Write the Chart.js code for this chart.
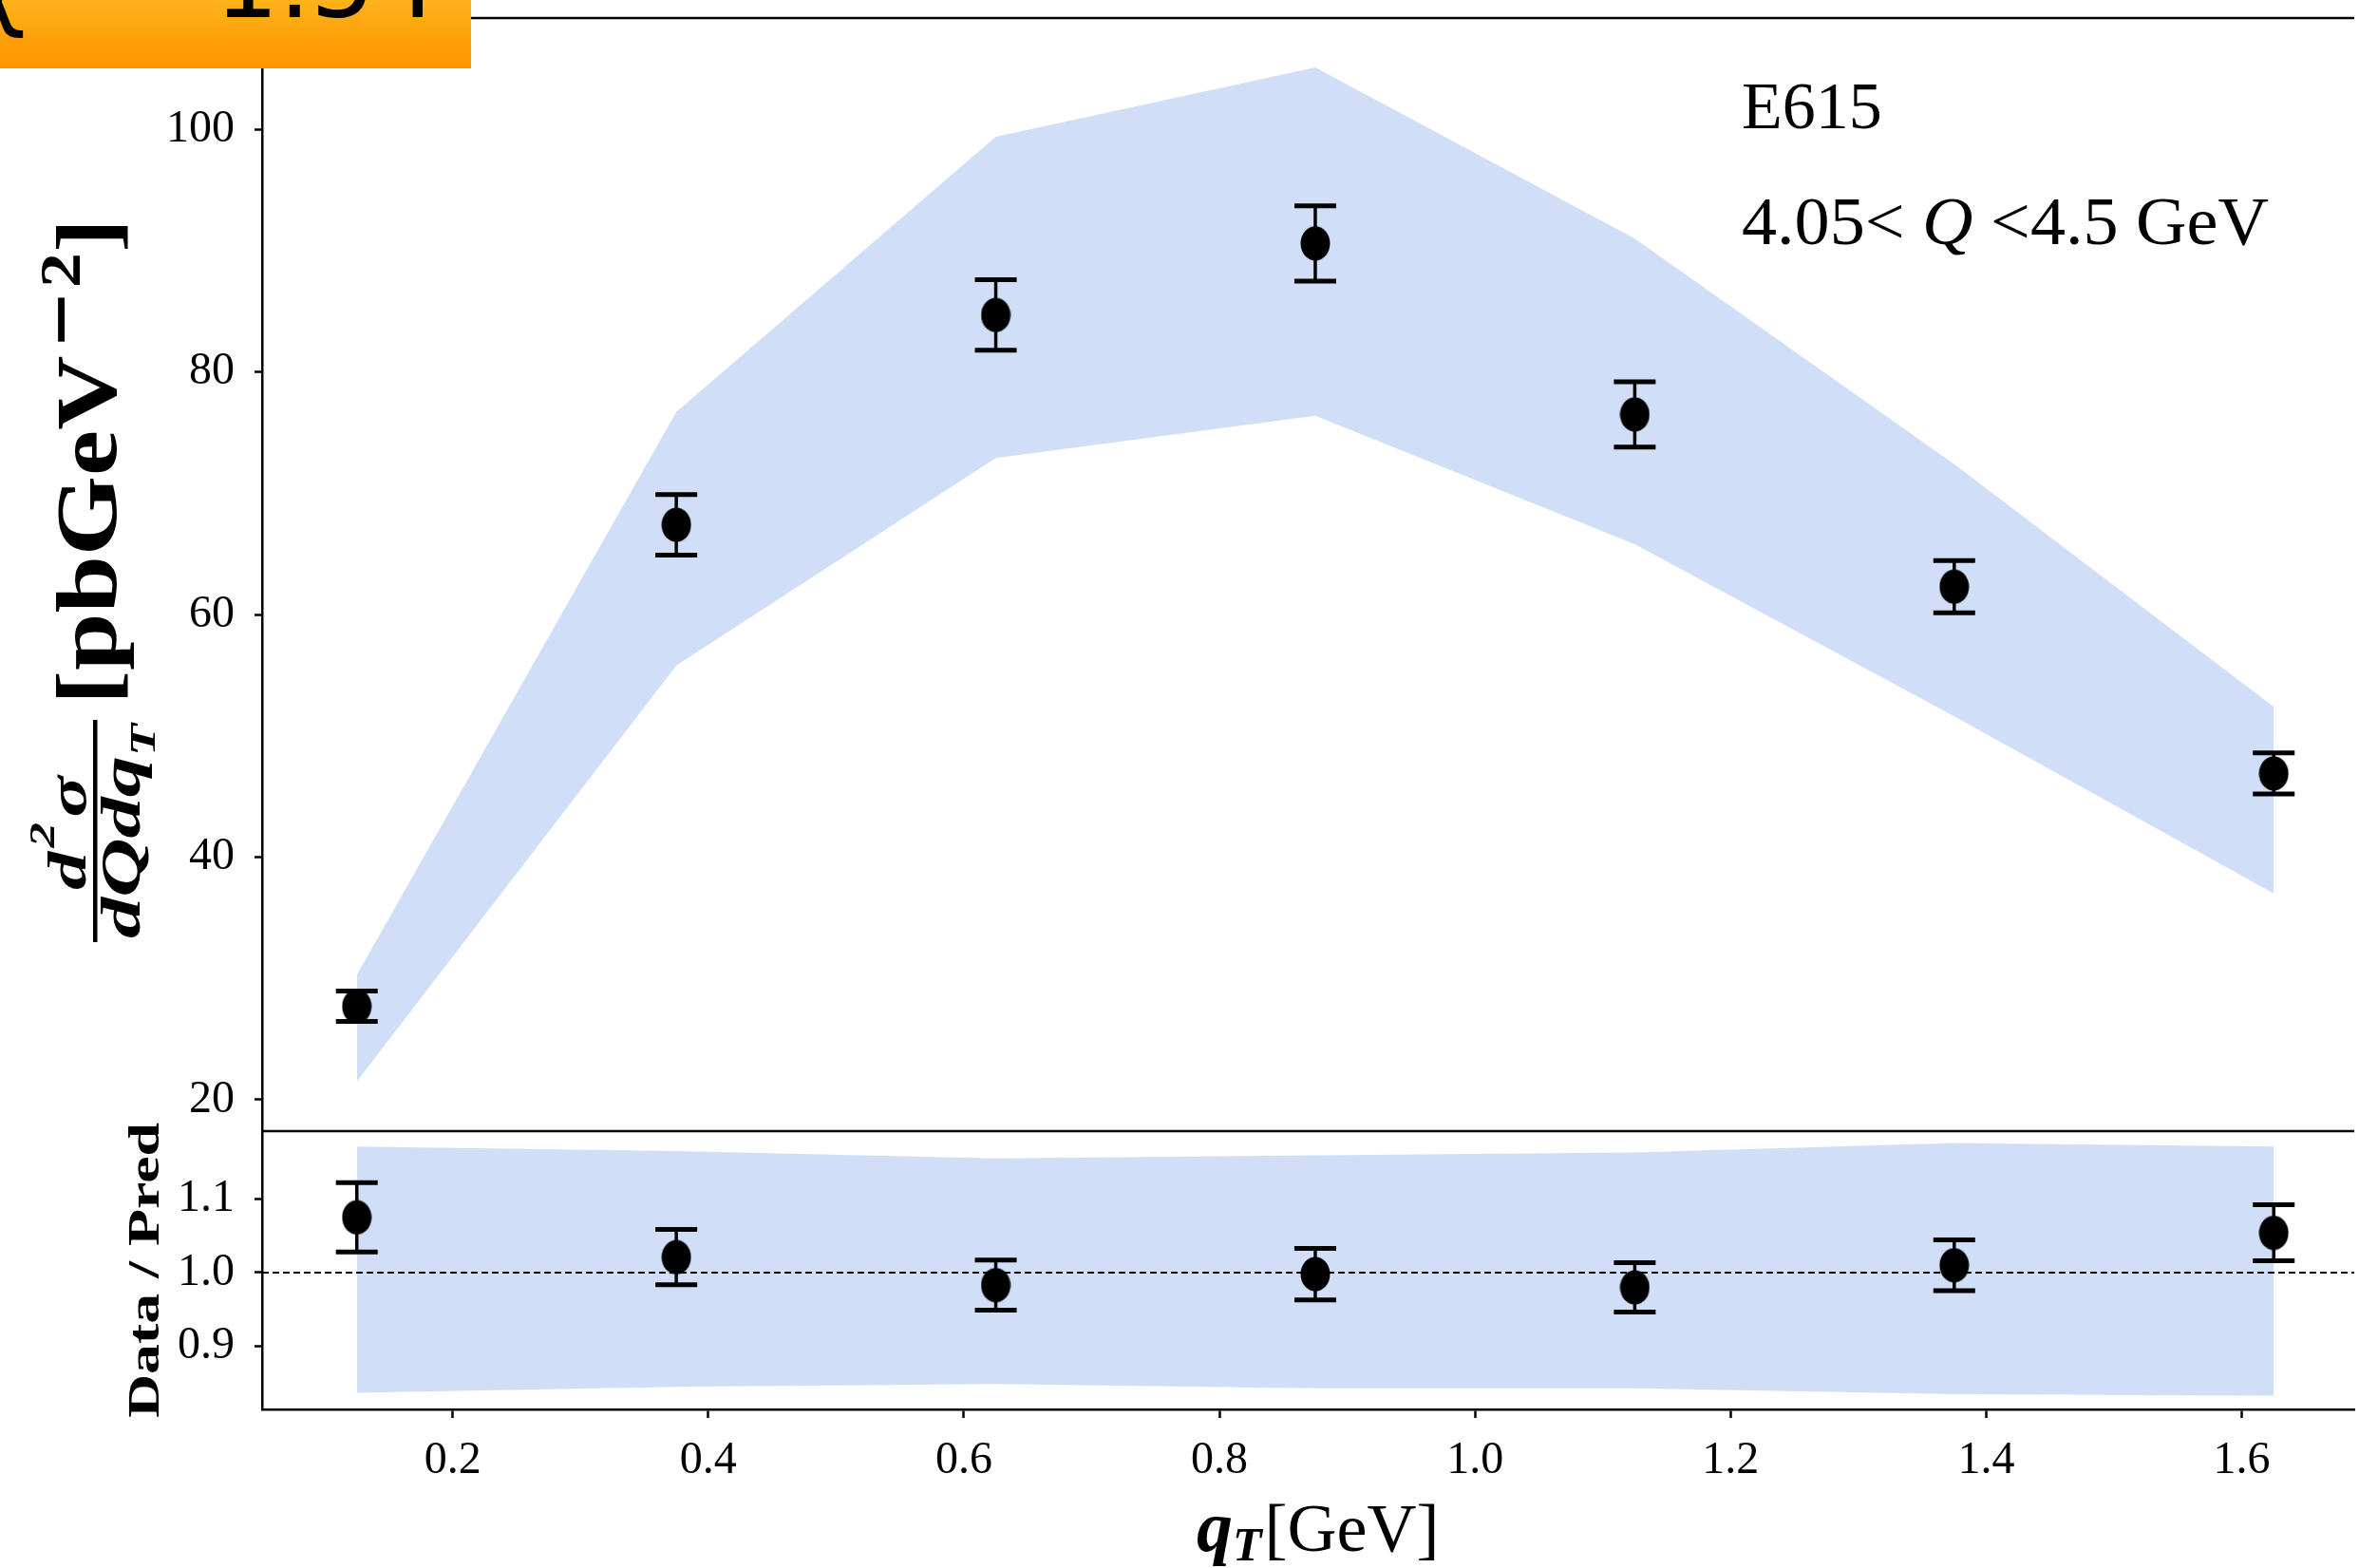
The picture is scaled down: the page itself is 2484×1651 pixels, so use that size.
<!DOCTYPE html>
<html>
<head>
<meta charset="utf-8">
<script src="https://cdn.jsdelivr.net/npm/chart.js@4.4.1/dist/chart.umd.min.js"></script>
<style>
html, body { margin: 0; padding: 0; background: #fff; }
#wrap { width: 2484px; height: 1651px; position: relative; }
</style>
</head>
<body>
<div id="wrap"><canvas id="myChart" width="2484" height="1651"></canvas></div>
<script>
// qT bin centres (GeV)
const qT = [0.125, 0.375, 0.625, 0.875, 1.125, 1.375, 1.625];

// E615 data, pb/GeV^2
const xsec = [27.7, 67.4, 84.7, 90.6, 76.5, 62.3, 46.9];
const xsecErr = [1.25, 2.5, 2.9, 3.1, 2.7, 2.15, 1.7];

// prediction band
const bandUp = [30.3, 76.7, 99.4, 105.1, 91.0, 72.4, 52.4];
const bandLow = [21.5, 55.8, 72.9, 76.4, 65.8, 51.6, 37.0];

// data / prediction
const ratio = [1.075, 1.021, 0.983, 0.998, 0.980, 1.010, 1.054];
const ratioErr = [0.047, 0.0375, 0.034, 0.035, 0.0335, 0.0345, 0.038];
const ratioBandUp = [1.171, 1.165, 1.155, 1.159, 1.163, 1.176, 1.171];
const ratioBandLow = [0.837, 0.845, 0.849, 0.843, 0.843, 0.835, 0.833];

// ticks
const xTicks = [0.2, 0.4, 0.6, 0.8, 1.0, 1.2, 1.4, 1.6];
const topTicks = [20, 40, 60, 80, 100];
const ratioTicks = [0.9, 1.0, 1.1];

const bandColor = 'rgb(208, 223, 247)';
const serif = '"Liberation Serif"';

Chart.defaults.font.family = serif;
Chart.defaults.color = '#000';

const pts = (ys) => qT.map((x, i) => ({ x: x, y: ys[i] }));

// slightly tall elliptic marker
const marker = document.createElement('canvas');
marker.width = 32;
marker.height = 37;
const mctx = marker.getContext('2d');
mctx.fillStyle = '#000';
mctx.beginPath();
mctx.ellipse(16, 18.5, 15.5, 18, 0, 0, Math.PI * 2);
mctx.fill();

function drawErrors(ctx, xs, ys, errs, sx, sy) {
    ctx.strokeStyle = '#000';
    for (let i = 0; i < xs.length; i++) {
        const px = sx.getPixelForValue(xs[i]);
        const top = sy.getPixelForValue(ys[i] + errs[i]);
        const bot = sy.getPixelForValue(ys[i] - errs[i]);
        ctx.lineWidth = 3.5;
        ctx.beginPath();
        ctx.moveTo(px, top);
        ctx.lineTo(px, bot);
        ctx.stroke();
        ctx.lineWidth = 5;
        ctx.beginPath();
        ctx.moveTo(px - 22, top);
        ctx.lineTo(px + 22, top);
        ctx.moveTo(px - 22, bot);
        ctx.lineTo(px + 22, bot);
        ctx.stroke();
    }
}

// write a run of text pieces bottom-to-top, stretched so it spans screen y from yStart up to yEnd
function rotatedRun(ctx, pieces, yStart, yEnd) {
    let total = 0;
    pieces.forEach(p => {
        ctx.font = p.font;
        p.w = ctx.measureText(p.text).width;
        total += p.w + (p.gap || 0);
    });
    ctx.save();
    ctx.rotate(-Math.PI / 2);
    ctx.translate(-yStart, 0);
    ctx.scale((yStart - yEnd) / total, 1);
    ctx.fillStyle = '#000';
    let x = 0;
    pieces.forEach(p => {
        ctx.font = p.font;
        ctx.fillText(p.text, x, p.base);
        x += p.w + (p.gap || 0);
    });
    ctx.restore();
}

function drawYTitle(ctx) {
    // fraction bar
    ctx.save();
    ctx.fillStyle = '#000';
    ctx.fillRect(98, 758, 4.5, 234);
    ctx.restore();

    const bi = (size) => 'bold italic ' + size + 'px ' + serif;
    rotatedRun(ctx, [
        { text: 'd', font: bi(58), base: 90, gap: 3 },
        { text: '2', font: bi(38), base: 57, gap: 4 },
        { text: 'σ', font: bi(58), base: 90 }
    ], 937, 817);

    rotatedRun(ctx, [
        { text: 'dQdq', font: bi(59), base: 147 },
        { text: 'T', font: bi(38), base: 163 }
    ], 988, 762);

    rotatedRun(ctx, [
        { text: '[pbGeV', font: 'bold 91px ' + serif, base: 122, gap: 6 },
        { text: '−', font: 'bold 62px "DejaVu Serif"', base: 84, gap: 2 },
        { text: '2', font: 'bold 62px ' + serif, base: 84 },
        { text: ']', font: 'bold 91px ' + serif, base: 122 }
    ], 742, 230);

    rotatedRun(ctx, [
        { text: 'Data / Pred', font: 'bold 46px ' + serif, base: 167 }
    ], 1493, 1182);
}

function drawXTitle(ctx) {
    ctx.save();
    ctx.fillStyle = '#000';
    const fq = 'bold italic 76px ' + serif;
    const fT = 'bold italic 50px ' + serif;
    const fG = '72px ' + serif;
    let x = 1260;
    ctx.font = fq; ctx.fillText('q', x, 1633); x += ctx.measureText('q').width;
    ctx.font = fT; ctx.fillText('T', x, 1643); x += ctx.measureText('T').width + 3;
    ctx.font = fG; ctx.fillText('[GeV]', x, 1633);
    ctx.restore();
}

function drawLabels(ctx) {
    ctx.save();
    ctx.fillStyle = '#000';
    ctx.font = '70px ' + serif;
    ctx.fillText('E615', 1834, 135);

    const f = '72px ' + serif;
    const fi = 'italic 72px ' + serif;
    const parts = [['4.05< ', f], ['Q', fi], [' <4.5 GeV', f]];
    let total = 0;
    parts.forEach(p => { ctx.font = p[1]; total += ctx.measureText(p[0]).width; });
    ctx.translate(1834, 257);
    ctx.scale(555 / total, 1);
    let x = 0;
    parts.forEach(p => {
        ctx.font = p[1];
        ctx.fillText(p[0], x, 0);
        x += ctx.measureText(p[0]).width;
    });
    ctx.restore();
}

function drawBadge(ctx) {
    ctx.save();
    const g = ctx.createLinearGradient(0, 0, 0, 72);
    g.addColorStop(0, '#ffb31b');
    g.addColorStop(1, '#ff9400');
    ctx.fillStyle = g;
    ctx.fillRect(0, 0, 496, 72);
    ctx.fillStyle = '#000';
    ctx.font = '106px "DejaVu Sans"';
    ctx.textAlign = 'right';
    ctx.fillText('χ² = 1.54', 462, 18);
    ctx.restore();
}

const decor = {
    id: 'decor',
    afterDatasetsDraw(chart) {
        const ctx = chart.ctx;
        const sx = chart.scales.x;
        const sy = chart.scales.y;
        const sr = chart.scales.ratio;
        const area = chart.chartArea;

        // reference line at 1
        ctx.save();
        ctx.strokeStyle = '#000';
        ctx.lineWidth = 2;
        ctx.setLineDash([7, 4]);
        const y1 = sr.getPixelForValue(1);
        ctx.beginPath();
        ctx.moveTo(area.left, y1);
        ctx.lineTo(area.right, y1);
        ctx.stroke();
        ctx.restore();

        ctx.save();
        drawErrors(ctx, qT, xsec, xsecErr, sx, sy);
        drawErrors(ctx, qT, ratio, ratioErr, sx, sr);
        ctx.restore();
    },
    afterDraw(chart) {
        const ctx = chart.ctx;
        const area = chart.chartArea;
        const sr = chart.scales.ratio;
        ctx.save();
        ctx.strokeStyle = '#000';
        ctx.lineWidth = 2.5;
        ctx.beginPath();
        ctx.moveTo(area.left, area.top);
        ctx.lineTo(area.right, area.top);
        ctx.moveTo(area.left, sr.top);
        ctx.lineTo(area.right, sr.top);
        ctx.stroke();
        ctx.restore();

        drawYTitle(ctx);
        drawXTitle(ctx);
        drawLabels(ctx);
        drawBadge(ctx);
    }
};

const tickFont = { family: serif, size: 48 };

function yScale(min, max, weight, tickList, fmt) {
    return {
        type: 'linear',
        position: 'left',
        stack: 'panels',
        stackWeight: weight,
        min: min,
        max: max,
        afterFit: s => { s.width = 276; s.paddingTop = 0; s.paddingBottom = 0; },
        afterBuildTicks: s => { s.ticks = tickList.map(v => ({ value: v })); },
        ticks: { color: '#000', font: tickFont, padding: 21, callback: fmt },
        grid: { drawOnChartArea: false, drawTicks: true, tickLength: 8, tickWidth: 2.5, tickColor: '#000' },
        border: { display: true, color: '#000', width: 2.5 }
    };
}

new Chart(document.getElementById('myChart'), {
    type: 'scatter',
    data: {
        datasets: [
            { data: pts(xsec), yAxisID: 'y', pointStyle: marker, order: 0 },
            { data: pts(ratio), yAxisID: 'ratio', pointStyle: marker, order: 0 },
            {
                data: pts(bandUp), yAxisID: 'y', showLine: true, fill: '+1',
                backgroundColor: bandColor, borderWidth: 0, pointRadius: 0, order: 2
            },
            {
                data: pts(bandLow), yAxisID: 'y', showLine: true, fill: false,
                borderWidth: 0, pointRadius: 0, order: 2
            },
            {
                data: pts(ratioBandUp), yAxisID: 'ratio', showLine: true, fill: '+1',
                backgroundColor: bandColor, borderWidth: 0, pointRadius: 0, order: 2
            },
            {
                data: pts(ratioBandLow), yAxisID: 'ratio', showLine: true, fill: false,
                borderWidth: 0, pointRadius: 0, order: 2
            }
        ]
    },
    options: {
        responsive: false,
        animation: false,
        devicePixelRatio: 1,
        layout: { padding: { top: 19, left: 0, right: 0, bottom: 0 } },
        plugins: {
            legend: { display: false },
            tooltip: { enabled: false }
        },
        scales: {
            ratio: yScale(0.8144, 1.192, 1, ratioTicks, v => v.toFixed(1)),
            y: yScale(17.41, 109.18, 4, topTicks, v => String(v)),
            x: {
                type: 'linear',
                position: 'bottom',
                min: 0.0509,
                max: 1.688,
                afterFit: s => { s.height = 167; s.paddingLeft = 0; s.paddingRight = 0; },
                afterBuildTicks: s => { s.ticks = xTicks.map(v => ({ value: v })); },
                ticks: { color: '#000', font: tickFont, padding: 17, maxRotation: 0, autoSkip: false, callback: v => v.toFixed(1) },
                grid: { drawOnChartArea: false, drawTicks: true, tickLength: 9, tickWidth: 2.5, tickColor: '#000' },
                border: { display: true, color: '#000', width: 2.5 }
            }
        }
    },
    plugins: [decor]
});
</script>
</body>
</html>
